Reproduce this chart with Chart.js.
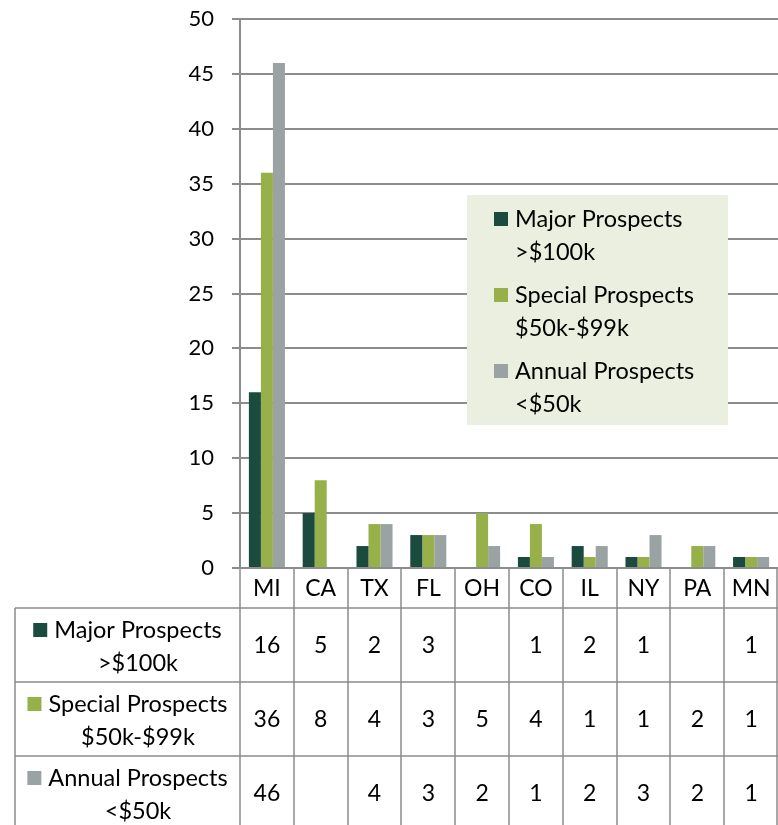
<!DOCTYPE html>
<html>
<head>
<meta charset="utf-8">
<script src="https://cdn.jsdelivr.net/npm/chart.js@4"></script>
<style>
  html, body { margin: 0; padding: 0; background: #fff; }
  #wrap { width: 778px; height: 825px; position: relative; }
</style>
</head>
<body>
<div id="wrap"><canvas id="prospectChart"></canvas></div>
<script>
// chart data
var states = ["MI", "CA", "TX", "FL", "OH", "CO", "IL", "NY", "PA", "MN"];
var majorProspects = [16, 5, 2, 3, null, 1, 2, 1, null, 1];
var specialProspects = [36, 8, 4, 3, 5, 4, 1, 1, 2, 1];
var annualProspects = [46, null, 4, 3, 2, 1, 2, 3, 2, 1];
var seriesNames = [
  ["Major Prospects", ">$100k"],
  ["Special Prospects", "$50k-$99k"],
  ["Annual Prospects", "<$50k"],
];
var yTicks = [0, 5, 10, 15, 20, 25, 30, 35, 40, 45, 50];

var colors = ["#1b4a3e", "#97b04a", "#9aa2a3"];
var FONT = "Lato, 'Open Sans', sans-serif";
var lineColor = "#8c8c8c";

// legend box drawn inside the plot
var legendBox = {
  id: "legendBox",
  afterDraw: function (chart) {
    var ctx = chart.ctx;
    var x = 467, y = 195, w = 261, h = 230;
    ctx.save();
    ctx.fillStyle = "#ebefdf";
    ctx.fillRect(x, y, w, h);
    ctx.font = "23.5px " + FONT;
    ctx.textBaseline = "middle";
    ctx.textAlign = "left";
    for (var i = 0; i < seriesNames.length; i++) {
      var top = 219 + i * 76;
      ctx.fillStyle = colors[i];
      ctx.fillRect(494, top - 7, 14, 14);
      ctx.fillStyle = "#000";
      ctx.fillText(seriesNames[i][0], 515, top);
      ctx.fillText(seriesNames[i][1], 515, top + 33);
    }
    ctx.restore();
  },
};

// data table under the plot
var dataTable = {
  id: "dataTable",
  afterDraw: function (chart) {
    var ctx = chart.ctx;
    var xs = chart.scales.x;
    var area = chart.chartArea;
    var headTop = area.bottom;
    var headBottom = headTop + 40;
    var rowH = 74;
    var rows = [majorProspects, specialProspects, annualProspects];
    var tableLeft = 15;
    var colW = (area.right - area.left) / states.length;

    ctx.save();
    ctx.strokeStyle = lineColor;
    ctx.lineWidth = 1.5;
    ctx.beginPath();
    // vertical column lines
    for (var c = 0; c <= states.length; c++) {
      var lx = Math.round(area.left + c * colW) - (c === states.length ? 1 : 0);
      ctx.moveTo(lx, headTop);
      ctx.lineTo(lx, chart.height);
    }
    // left border
    ctx.moveTo(tableLeft, headBottom);
    ctx.lineTo(tableLeft, chart.height);
    // horizontal lines
    for (var r = 0; r < 3; r++) {
      var ly = headBottom + r * rowH;
      ctx.moveTo(tableLeft, ly);
      ctx.lineTo(area.right, ly);
    }
    ctx.stroke();

    ctx.font = "23px " + FONT;
    ctx.fillStyle = "#000";
    ctx.textBaseline = "middle";
    ctx.textAlign = "center";
    // header
    for (var i = 0; i < states.length; i++) {
      ctx.fillText(states[i], xs.getPixelForValue(i), (headTop + headBottom) / 2 + 1);
    }
    // rows
    for (var r = 0; r < rows.length; r++) {
      var rt = headBottom + r * rowH;
      var mid = rt + rowH / 2 + 1;
      for (var i = 0; i < states.length; i++) {
        if (rows[r][i] !== null) {
          ctx.fillText(String(rows[r][i]), xs.getPixelForValue(i), mid);
        }
      }
      ctx.font = "23.5px " + FONT;
      var tw = ctx.measureText(seriesNames[r][0]).width;
      var total = 14 + 7 + tw;
      var sx = (tableLeft + area.left) / 2 - total / 2;
      ctx.fillStyle = colors[r];
      ctx.fillRect(sx, mid - 23, 14, 14);
      ctx.fillStyle = "#000";
      ctx.fillText(seriesNames[r][0], sx + 21 + tw / 2, mid - 16);
      ctx.fillText(seriesNames[r][1], sx + 21 + tw / 2, mid + 17);
      ctx.font = "23px " + FONT;
    }
    ctx.restore();
  },
};

var ctx = document.getElementById("prospectChart").getContext("2d");
var prospectChart = new Chart(ctx, {
  type: "bar",
  data: {
    labels: states,
    datasets: [
      { label: seriesNames[0].join(" "), data: majorProspects, backgroundColor: colors[0] },
      { label: seriesNames[1].join(" "), data: specialProspects, backgroundColor: colors[1] },
      { label: seriesNames[2].join(" "), data: annualProspects, backgroundColor: colors[2] },
    ],
  },
  options: {
    responsive: true,
    maintainAspectRatio: false,
    animation: false,
    layout: { padding: { top: 19, right: 0, bottom: 257, left: 0 } },
    datasets: {
      bar: {
        categoryPercentage: 0.67,
        barPercentage: 1,
        borderWidth: 0,
      },
    },
    plugins: {
      legend: { display: false },
      tooltip: { enabled: false },
    },
    scales: {
      x: { display: false },
      y: {
        min: 0,
        max: 50,
        afterFit: function (scale) {
          scale.width = 240;
          scale.paddingTop = 0;
          scale.paddingBottom = 0;
        },
        afterBuildTicks: function (scale) {
          scale.ticks = yTicks.map(function (v) { return { value: v }; });
        },
        ticks: {
          padding: 18,
          color: "#000",
          font: { family: FONT, size: 22 },
        },
        grid: {
          color: lineColor,
          lineWidth: 2,
          tickLength: 8,
        },
        border: { color: lineColor, width: 2 },
      },
    },
  },
  plugins: [legendBox, dataTable],
});
</script>
</body>
</html>
